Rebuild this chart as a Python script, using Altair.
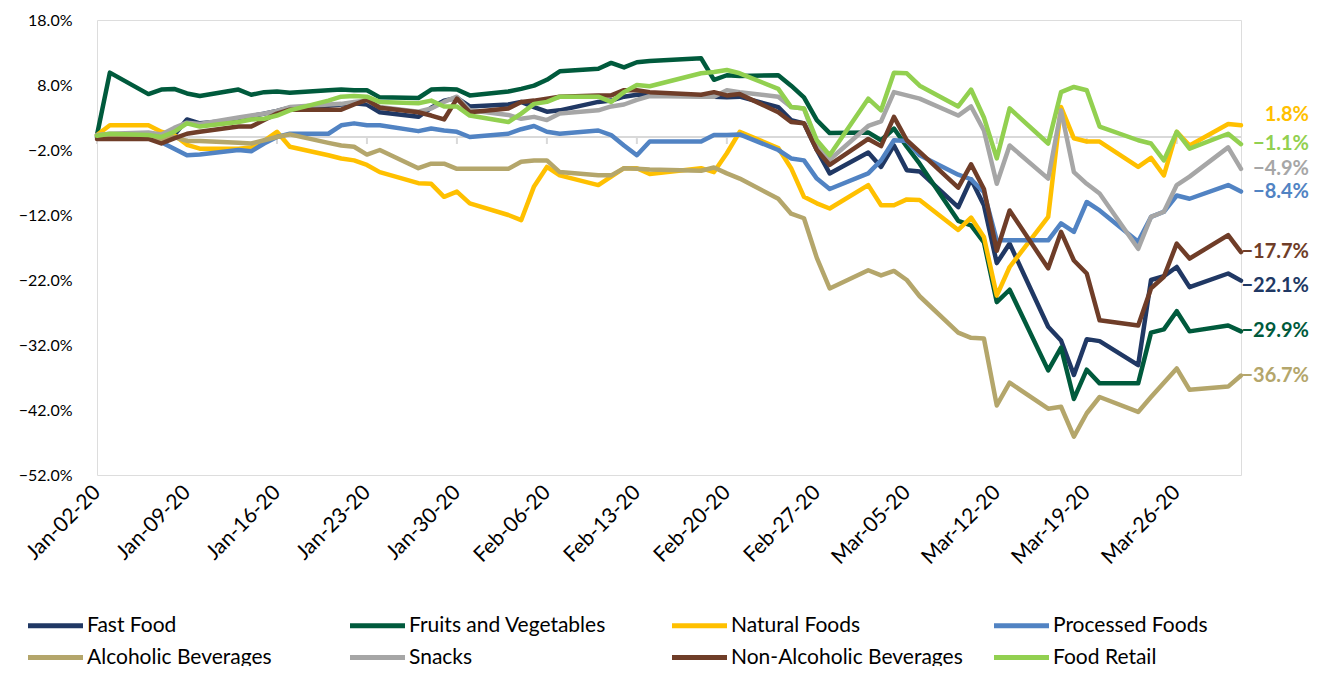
import altair as alt
import pandas as pd

# ---------------- data ----------------
dates = [
    "2020-01-02", "2020-01-03", "2020-01-06", "2020-01-07", "2020-01-08", "2020-01-09", "2020-01-10",
    "2020-01-13", "2020-01-14", "2020-01-15", "2020-01-16", "2020-01-17", "2020-01-20", "2020-01-21",
    "2020-01-22", "2020-01-23", "2020-01-24", "2020-01-27", "2020-01-28", "2020-01-29", "2020-01-30",
    "2020-01-31",
    "2020-02-03", "2020-02-04", "2020-02-05", "2020-02-06", "2020-02-07", "2020-02-10", "2020-02-11",
    "2020-02-12", "2020-02-13", "2020-02-14", "2020-02-18", "2020-02-19", "2020-02-20", "2020-02-21",
    "2020-02-24", "2020-02-25", "2020-02-26", "2020-02-27", "2020-02-28",
    "2020-03-02", "2020-03-03", "2020-03-04", "2020-03-05", "2020-03-06", "2020-03-09", "2020-03-10",
    "2020-03-11", "2020-03-12", "2020-03-13", "2020-03-16", "2020-03-17", "2020-03-18", "2020-03-19",
    "2020-03-20", "2020-03-23", "2020-03-24", "2020-03-25", "2020-03-26", "2020-03-27", "2020-03-30",
    "2020-03-31",
]

tick_dates = [
    "2020-01-02", "2020-01-09", "2020-01-16", "2020-01-23", "2020-01-30", "2020-02-06", "2020-02-13",
    "2020-02-20", "2020-02-27", "2020-03-05", "2020-03-12", "2020-03-19", "2020-03-26",
]

series_names = [
    "Fast Food", "Fruits and Vegetables", "Natural Foods", "Processed Foods",
    "Alcoholic Beverages", "Snacks", "Non-Alcoholic Beverages", "Food Retail",
]
series_colors = [
    "#203864", "#005A3C", "#FFC000", "#5183C3",
    "#B4A66B", "#A6A6A6", "#6F3D28", "#92D050",
]

fast_food = [
    0.0, 0.3, 0.2, 0.5, 0.3, 2.7, 2.1, 2.6, 3.2, 3.6, 4.0, 4.5, 4.8, 5.0, 5.2, 5.0, 3.8, 3.1, 4.5, 5.6, 6.0, 4.7,
    5.0, 5.4, 4.6, 3.9, 4.1, 5.4, 5.6, 6.2, 6.5, 6.5, 6.3, 6.2, 6.1, 6.2, 4.6, 2.6, 2.1, -2.0, -5.6,
    -2.4, -4.6, -1.3, -5.1, -5.3, -10.8, -6.5, -10.5, -19.4, -16.4, -29.2, -31.3, -36.6, -31.1, -31.4, -35.1,
    -22.0, -21.4, -20.0, -23.1, -21.0, -22.1,
]
fruits_vegetables = [
    0.3, 9.9, 6.6, 7.3, 7.4, 6.7, 6.3, 7.3, 6.5, 6.9, 7.0, 6.8, 7.2, 7.3, 7.2, 7.2, 6.1, 6.0, 7.3, 7.4, 7.3, 6.4,
    7.0, 7.4, 7.9, 8.8, 10.1, 10.5, 11.4, 10.7, 11.5, 11.7, 12.1, 8.8, 9.5, 9.4, 9.5, 7.9, 6.1, 2.6, 0.6,
    0.7, -0.5, 1.3, -1.5, -4.1, -12.9, -13.6, -16.2, -25.4, -23.5, -35.9, -32.4, -40.3, -35.8, -37.9, -37.9,
    -30.1, -29.6, -26.8, -29.9, -29.0, -29.9,
]
natural_foods = [
    0.3, 1.8, 1.8, 0.8, 0.3, -1.2, -1.8, -1.8, -1.6, -0.6, 0.8, -1.5, -2.8, -3.3, -3.6, -4.3, -5.4, -7.1, -7.2,
    -9.2, -8.4, -10.2,
    -12.0, -12.8, -7.6, -4.6, -5.9, -7.4, -6.1, -4.8, -4.8, -5.7, -4.8, -5.4, -2.5, 0.8, -1.7, -4.8, -9.2,
    -10.2, -11.0,
    -7.4, -10.5, -10.5, -9.6, -9.7, -14.3, -12.4, -15.4, -24.4, -20.0, -12.3, 4.6, -0.2, -0.7, -0.7, -4.6,
    -3.2, -5.9, 0.8, -1.3, 2.0, 1.8,
]
processed_foods = [
    0.0, 0.2, 0.3, -0.8, -1.8, -2.8, -2.7, -2.0, -2.2, -1.0, 0.0, 0.5, 0.5, 1.8, 2.1, 1.8, 1.8, 0.9, 1.3, 1.0,
    0.8, 0.0,
    0.5, 1.2, 1.7, 0.8, 0.5, 1.0, 0.3, -1.3, -2.8, -0.7, -0.7, 0.3, 0.3, 0.4, -2.0, -3.3, -3.6, -6.4, -8.0,
    -5.6, -3.6, -0.5, -0.6, -2.8, -5.8, -6.5, -8.5, -15.9, -15.9, -15.9, -13.3, -14.6, -10.0, -11.3, -16.1,
    -12.3, -11.5, -9.0, -9.5, -7.4, -8.4,
]
alcoholic_beverages = [
    0.0, 0.1, 0.1, -0.3, 0.0, -0.6, -0.6, -0.9, -1.0, -0.5, 0.0, 0.4, -0.9, -1.3, -1.5, -2.7, -2.0, -4.8, -4.1,
    -4.1, -4.9, -4.9,
    -4.9, -3.8, -3.6, -3.6, -5.4, -5.9, -5.9, -4.8, -4.9, -5.0, -5.2, -4.7, -5.6, -6.4, -9.5, -11.8, -12.5,
    -18.6, -23.3,
    -20.5, -21.3, -20.6, -22.0, -24.5, -30.1, -30.9, -31.0, -41.3, -37.8, -41.8, -41.5, -46.1, -42.5, -40.0,
    -42.3, -40.0, -37.8, -35.6, -38.9, -38.4, -36.7,
]
snacks = [
    0.3, 0.5, 0.7, 0.4, 1.4, 2.2, 2.0, 3.0, 3.3, 3.6, 4.0, 4.6, 5.0, 5.1, 5.4, 5.6, 4.6, 3.9, 4.4, 5.4, 6.2, 4.1,
    3.4, 2.8, 3.1, 2.6, 3.6, 4.1, 4.7, 5.0, 5.7, 6.3, 6.2, 6.2, 7.2, 6.9, 6.2, 4.6, 4.4, -1.0, -3.5,
    1.7, 2.4, 6.9, 6.4, 5.9, 3.3, 4.7, 1.0, -7.2, -1.3, -6.4, 4.1, -5.4, -7.2, -8.7, -17.2,
    -12.3, -11.5, -7.4, -6.1, -1.6, -4.9,
]
non_alcoholic_beverages = [
    -0.3, -0.3, -0.3, -1.0, -0.2, 0.5, 0.8, 1.6, 1.6, 2.6, 3.6, 4.2, 4.2, 4.2, 5.0, 5.7, 4.5, 3.8, 3.3, 2.7,
    5.9, 3.8,
    4.4, 5.4, 5.6, 5.9, 6.2, 6.4, 6.4, 7.2, 7.2, 6.9, 6.5, 6.9, 6.4, 6.6, 3.8, 2.3, 2.1, -2.0, -4.3,
    -0.3, -1.4, 3.1, -0.5, -2.3, -7.8, -4.2, -8.0, -17.5, -11.3, -20.2, -14.6, -19.0, -21.0, -28.2, -29.0,
    -23.3, -21.5, -16.4, -18.7, -15.1, -17.7,
]
food_retail = [
    0.2, 0.5, 0.3, 0.0, 0.8, 2.1, 1.6, 2.3, 2.7, 2.8, 3.3, 4.1, 5.6, 6.2, 6.3, 6.2, 5.4, 5.2, 5.6, 4.7, 4.7, 3.3,
    2.3, 3.6, 5.1, 5.4, 6.2, 6.2, 5.4, 6.9, 8.0, 7.8, 9.8, 10.0, 10.3, 9.8, 7.4, 4.6, 4.4, -0.5, -2.8,
    5.9, 4.1, 9.9, 9.8, 7.9, 4.7, 7.3, 3.0, -3.3, 4.4, -1.0, 6.9, 7.7, 7.2, 1.6, -0.5,
    -1.0, -3.6, 0.8, -1.8, 0.5, -1.1,
]

y_ticks = [18, 8, -2, -12, -22, -32, -42, -52]

# ---------------- tables ----------------
all_series = [fast_food, fruits_vegetables, natural_foods, processed_foods,
              alcoholic_beverages, snacks, non_alcoholic_beverages, food_retail]
records = []
for name, vals in zip(series_names, all_series):
    assert len(vals) == len(dates), (name, len(vals))
    for d, v in zip(dates, vals):
        records.append({"date": pd.Timestamp(d), "series": name, "value": v})
df = pd.DataFrame(records)

last_df = pd.DataFrame({
    "date": [pd.Timestamp(dates[-1])] * len(series_names),
    "series": series_names,
    "value": [vals[-1] for vals in all_series],
})

tick_df = pd.DataFrame({"date": [pd.Timestamp(d) for d in tick_dates], "value": [0] * len(tick_dates)})
zero_df = pd.DataFrame({"value": [0]})


def dt(s):
    t = pd.Timestamp(s)
    return alt.DateTime(year=t.year, month=t.month, date=t.day)


FONT = "Lato"
x_scale = alt.Scale(domain=[dt(dates[0]), dt(dates[-1])])
y_scale = alt.Scale(domain=[-52, 18], nice=False, zero=False)
color_scale = alt.Scale(domain=series_names, range=series_colors)

x_axis = alt.Axis(
    values=[dt(d) for d in tick_dates], format="%b-%d-%y", labelAngle=-45,
    labelAlign="right", labelBaseline="middle",
    domain=False, ticks=False, grid=False, title=None, labelFontSize=21,
    labelFont=FONT, labelColor="#000000", labelPadding=14, labelFlush=False,
    labelOverlap=False, labelBound=False,
)
y_axis = alt.Axis(
    values=y_ticks, labelExpr="format(datum.value, '.1f') + '%'",
    domain=False, ticks=False, grid=False, title=None, labelFontSize=16,
    labelFont=FONT, labelColor="#000000", labelPadding=25,
)

# a wide horizontal stroke drawn with a small nominal symbol size keeps the rows compact
legend = alt.Legend(
    orient="none", legendX=-52, legendY=595, columns=4, direction="horizontal", title=None,
    symbolType="M-5,0L5,0", symbolSize=121, symbolStrokeWidth=5,
    labelFontSize=21, labelFont=FONT, labelColor="#000000", labelOffset=21,
    labelLimit=400, columnPadding=21, rowPadding=10, gridAlign="all", padding=0,
)

X = alt.X("date:T", scale=x_scale, axis=x_axis)
Y = alt.Y("value:Q", scale=y_scale, axis=y_axis)

zero_line = alt.Chart(zero_df).mark_rule(color="#D9D9D9", strokeWidth=2).encode(y=Y)
ticks = alt.Chart(tick_df).mark_rule(color="#D9D9D9", strokeWidth=2, y2Offset=7).encode(
    x=X, y=Y, y2=alt.Y2("value")
)

lines = []
for name in series_names:
    lines.append(
        alt.Chart(df)
        .transform_filter(alt.datum.series == name)
        .mark_line(strokeWidth=4.5, strokeJoin="round", strokeCap="round")
        .encode(x=X, y=Y, color=alt.Color("series:N", scale=color_scale, legend=legend))
    )

# end-of-line value labels (small vertical nudges keep neighbouring labels apart)
label_nudge = {"Natural Foods": -10, "Fast Food": 5}
end_labels = []
for name in series_names:
    end_labels.append(
        alt.Chart(last_df)
        .transform_filter(alt.datum.series == name)
        .transform_calculate(label="format(datum.value, '.1f') + '%'")
        .mark_text(align="right", baseline="middle", dx=68, dy=label_nudge.get(name, 0),
                   fontSize=20, fontWeight="bold", font=FONT)
        .encode(x=X, y=Y, text="label:N",
                color=alt.Color("series:N", scale=color_scale, legend=None))
    )

chart = (
    alt.layer(zero_line, ticks, *lines, *end_labels)
    .properties(
        width=1144, height=455,
        padding={"left": 89, "top": 12, "right": 70, "bottom": 191},
        autosize=alt.AutoSizeParams(type="none"),
    )
    .configure_view(stroke=None)
    .configure(font=FONT)
)

chart.save("out.html", embed_options={"renderer": "svg", "actions": False})
